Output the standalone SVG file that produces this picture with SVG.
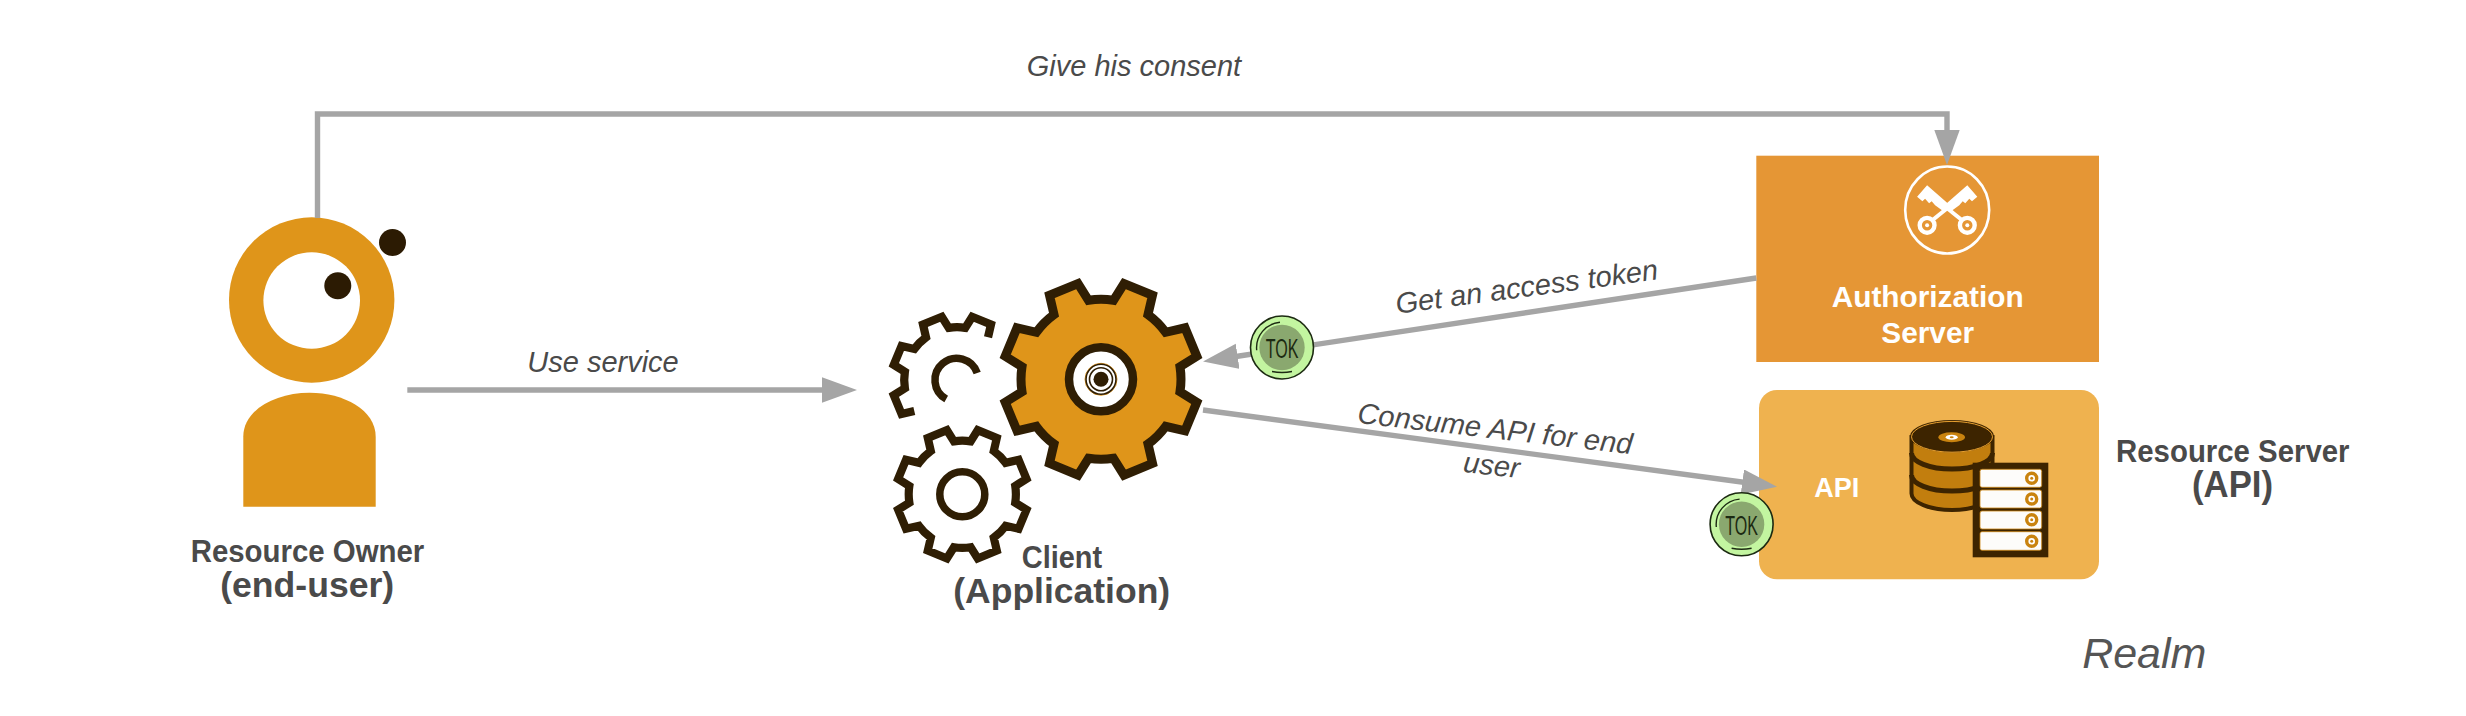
<svg xmlns="http://www.w3.org/2000/svg" width="2466" height="716" viewBox="0 0 2466 716">
<style>
text{font-family:"Liberation Sans",Arial,sans-serif}
.lbl{font-size:29px;font-style:italic;fill:#4a4a4a;text-anchor:middle}
.dark{font-weight:bold;fill:#4a4a4a;text-anchor:middle}
.white{font-weight:bold;fill:#fff;text-anchor:middle}
.conn{fill:none;stroke:#a5a5a5;stroke-width:5.4;marker-end:url(#arrow)}
.gear{stroke:#2f1e04;stroke-linejoin:miter}
.bedge{fill:#c3f5a0;stroke:#1c2a12;stroke-width:1.6}
.binner{fill:#8aa86f}
.barc{fill:none;stroke:#1c2a12;stroke-width:1.4}
.tok{font-size:27px;fill:#1c2a12;text-anchor:middle}
.ring{fill:#fff;stroke:#c9830f;stroke-width:3.4}
.dot{fill:#c9830f}
.row{fill:#fdfcfa;stroke:#c9830f;stroke-width:.8}
</style>
<defs>
<marker id="arrow" markerUnits="userSpaceOnUse" markerWidth="36" markerHeight="26" refX="5" refY="12.7" orient="auto"><path d="M0 0L35 12.7L0 25.4Z" fill="#a5a5a5"/></marker>
<path id="gearShape" d="M79 12.5L95.8 23L84 51.5L64.7 47A80 80 0 0 1 47 64.7L51.5 84L23 95.8L12.5 79A80 80 0 0 1 -12.5 79L-23 95.8L-51.5 84L-47 64.7A80 80 0 0 1 -64.7 47L-84 51.5L-95.8 23L-79 12.5A80 80 0 0 1 -79 -12.5L-95.8 -23L-84 -51.5L-64.7 -47A80 80 0 0 1 -47 -64.7L-51.5 -84L-23 -95.8L-12.5 -79A80 80 0 0 1 12.5 -79L23 -95.8L51.5 -84L47 -64.7A80 80 0 0 1 64.7 -47L84 -51.5L95.8 -23L79 -12.5A80 80 0 0 1 79 12.5Z"/>
<g id="key">
<path d="M1947.3 202.7L1967.3 185.3L1977.3 196.7L1972 201.3L1969.3 198.7L1965.3 203.3L1962.7 201.3L1959.3 205.3L1950 212L1945 206Z" fill="#fff"/>
<line x1="1950" y1="206" x2="1932" y2="220.5" stroke="#fff" stroke-width="4"/>
<circle cx="1927.1" cy="225.3" r="7.4" fill="none" stroke="#fff" stroke-width="4.4"/>
<circle cx="1927.1" cy="225.3" r="2" fill="#fff"/>
</g>
</defs>

<g id="resource-owner">
<circle cx="311.7" cy="300" r="82.7" fill="#df951a"/>
<circle cx="311.7" cy="300.5" r="48.3" fill="#fff"/>
<circle cx="337.8" cy="285.8" r="13.5" fill="#2c1b03"/>
<circle cx="392.5" cy="242.5" r="13.5" fill="#2c1b03"/>
<path d="M243.3 506.7V436.7C243.3 410 275 392.7 309.5 392.7C344 392.7 375.7 410 375.7 436.7V506.7Z" fill="#df951a"/>
<text class="dark" x="307.5" y="562" font-size="32" textLength="233.6" lengthAdjust="spacingAndGlyphs">Resource Owner</text>
<text class="dark" x="307.2" y="596.5" font-size="35.6">(end-user)</text>
</g>

<g id="client">
<g transform="translate(957 380) scale(.66)" fill="none" stroke="#2f1e04" stroke-width="12.5">
<path d="M-64.7 47L-84 51.5L-95.8 23L-79 12.5A80 80 0 0 1 -79 -12.5L-95.8 -23L-84 -51.5L-64.7 -47A80 80 0 0 1 -47 -64.7L-51.5 -84L-23 -95.8L-12.5 -79A80 80 0 0 1 12.5 -79L23 -95.8L51.5 -84L47 -64.7"/>
</g>
<path d="M977.2 373A21.7 21.7 0 1 0 946.2 399" fill="none" stroke="#2f1e04" stroke-width="7.5"/>
<use href="#gearShape" class="gear" transform="translate(962.3 494.3) scale(.67)" fill="#fff" stroke-width="12.2"/>
<circle cx="962.3" cy="494.3" r="22.5" fill="#fff" stroke="#2f1e04" stroke-width="7.5"/>
<use href="#gearShape" class="gear" transform="translate(1101 379.3)" fill="#df951a" stroke-width="9"/>
<circle cx="1101" cy="379.3" r="32" fill="#fff" stroke="#2f1e04" stroke-width="8.5"/>
<circle cx="1101" cy="379.3" r="16" fill="#fff" stroke="#df951a" stroke-width="1"/>
<circle cx="1101" cy="379.3" r="15" fill="#fff" stroke="#2f1e04" stroke-width="1.6"/>
<circle cx="1101" cy="379.3" r="11.5" fill="#fff" stroke="#2f1e04" stroke-width="1.6"/>
<circle cx="1101" cy="379.3" r="7.5" fill="#2f1e04"/>
<text class="dark" x="1062" y="568.3" font-size="31" textLength="80.3" lengthAdjust="spacingAndGlyphs">Client</text>
<text class="dark" x="1061.7" y="603.3" font-size="35.5">(Application)</text>
</g>

<g id="authorization-server">
<rect x="1756.3" y="155.7" width="342.7" height="206.3" fill="#e59635"/>
<ellipse cx="1947.2" cy="210" rx="42" ry="43.5" fill="none" stroke="#fff" stroke-width="2.6"/>
<use href="#key" transform="translate(3894.4 0) scale(-1 1)"/>
<use href="#key"/>
<text class="white" x="1927.7" y="306.7" font-size="29.8">Authorization</text>
<text class="white" x="1927.7" y="343.3" font-size="29.8">Server</text>
</g>

<g id="resource-server">
<rect x="1759" y="390" width="340" height="189.3" rx="18" fill="#efb24f"/>
<text class="white" x="1836.8" y="496.7" font-size="27">API</text>
<path d="M1911.5 437V493.5A40.5 16.5 0 0 0 1992.5 493.5V437Z" fill="#c27e0e" stroke="#3d2400" stroke-width="4"/>
<path d="M1911.5 453A40.5 16 0 0 0 1992.5 453M1911.5 475A40.5 16 0 0 0 1992.5 475" fill="none" stroke="#3d2400" stroke-width="5"/>
<ellipse cx="1952" cy="436.3" rx="42" ry="16.3" fill="#3d2400"/>
<ellipse cx="1952" cy="436.8" rx="40.5" ry="15.4" fill="none" stroke="#e8a030" stroke-width="1"/>
<ellipse cx="1951.7" cy="437.3" rx="13.3" ry="5" fill="#c9830f"/>
<ellipse cx="1951.7" cy="437.3" rx="6" ry="2.5" fill="#fff"/>
<ellipse cx="1951.7" cy="437.3" rx="2" ry="1" fill="#c9830f"/>
<rect x="1972.7" y="462.7" width="75.6" height="94.6" fill="#3d2400"/>
<rect class="row" x="1980" y="469.3" width="61.7" height="18" rx="2"/>
<rect class="row" x="1980" y="490" width="61.7" height="18" rx="2"/>
<rect class="row" x="1980" y="511" width="61.7" height="18" rx="2"/>
<rect class="row" x="1980" y="531.7" width="61.7" height="18.6" rx="2"/>
<circle class="ring" cx="2031.7" cy="478.3" r="5"/><circle class="dot" cx="2031.7" cy="478.3" r="1.5"/>
<circle class="ring" cx="2031.7" cy="499" r="5"/><circle class="dot" cx="2031.7" cy="499" r="1.5"/>
<circle class="ring" cx="2031.7" cy="519.7" r="5"/><circle class="dot" cx="2031.7" cy="519.7" r="1.5"/>
<circle class="ring" cx="2031.7" cy="541.3" r="5"/><circle class="dot" cx="2031.7" cy="541.3" r="1.5"/>
<text class="dark" x="2232.8" y="461.7" font-size="32" textLength="233.5" lengthAdjust="spacingAndGlyphs">Resource Server</text>
<text class="dark" x="2232.5" y="496.7" font-size="36" textLength="81" lengthAdjust="spacingAndGlyphs">(API)</text>
</g>

<g id="connectors">
<path class="conn" d="M317.5 218V114H1947V135"/>
<path class="conn" d="M407.3 390H827"/>
<path class="conn" d="M1756.3 278L1232.7 357"/>
<path class="conn" d="M1203 410L1747.3 482.7"/>
</g>

<g id="connector-labels">
<text class="lbl" x="1134" y="76">Give his consent</text>
<text class="lbl" x="603" y="372">Use service</text>
<text class="lbl" transform="translate(1528 296.5) rotate(-7.5)">Get an access token</text>
<text class="lbl" transform="translate(1494 438.5) rotate(6.5)">Consume API for end</text>
<text class="lbl" transform="translate(1490.5 475) rotate(6.5)">user</text>
</g>

<g id="token-1" transform="translate(1282 347.5)">
<circle class="bedge" r="31.5"/>
<circle class="binner" r="22.7"/>
<path class="barc" d="M-25.3 2.7A25.5 25.5 0 0 1 -2 -25.2M-10 24Q0 26 10 24"/>
<text class="tok" y="10.5" textLength="32.7" lengthAdjust="spacingAndGlyphs">TOK</text>
</g>
<g id="token-2" transform="translate(1741.6 524.3)">
<circle class="bedge" r="31.5"/>
<circle class="binner" r="22.7"/>
<path class="barc" d="M-25.3 2.7A25.5 25.5 0 0 1 -2 -25.2M-10 24Q0 26 10 24"/>
<text class="tok" y="10.5" textLength="32.7" lengthAdjust="spacingAndGlyphs">TOK</text>
</g>

<text id="realm" x="2144.3" y="668.3" font-size="43" font-style="italic" fill="#555" text-anchor="middle">Realm</text>
</svg>
